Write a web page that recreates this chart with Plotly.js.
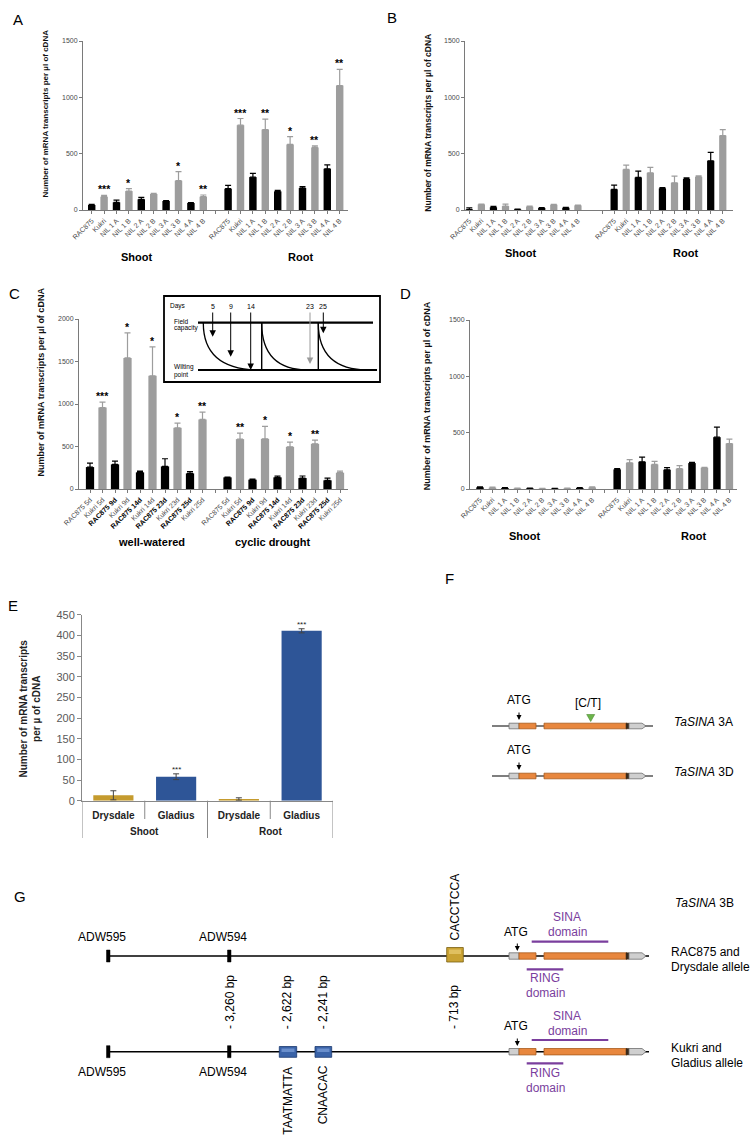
<!DOCTYPE html>
<html><head><meta charset="utf-8">
<script src="https://cdn.plot.ly/plotly-3.0.1.min.js"></script>
<style>html,body{margin:0;padding:0;background:#fff;}#chart{width:755px;height:1139px;}</style>
</head><body><div id="chart"></div>
<script>
const W=755,H=1139;
const FONT='Liberation Sans, Arial, sans-serif';

// ---------- DATA ----------
const lineLabels=['RAC875','Kukri','NIL 1 A','NIL 1 B','NIL 2 A','NIL 2 B','NIL 3 A','NIL 3 B','NIL 4 A','NIL 4 B'];
const tissueLabels=['Shoot','Root'];

// Panel A
const A_shoot=[45,118,68,168,95,142,80,260,62,118];
const A_shoot_err=[6,12,20,22,17,6,3,80,3,15];
const A_shoot_sig=['','***','','*','','','','*','','**'];
const A_root=[189,753,292,714,165,582,195,555,366,1104];
const A_root_err=[29,59,33,92,9,70,12,15,35,145];
const A_root_sig=['','***','','**','','*','','**','','**'];

// Panel B
const B_shoot=[5,50,24,35,6,30,18,47,20,41];
const B_shoot_err=[15,3,8,18,3,5,3,3,3,3];
const B_root=[183,360,289,330,192,242,275,295,437,661];
const B_root_err=[38,39,56,48,6,59,11,9,74,53];

// Panel C
const C_labels=['RAC875 5d','Kukri 5d','RAC875 9d','Kukri 9d','RAC875 14d','Kukri 14d','RAC875 23d','Kukri 23d','RAC875 25d','Kukri 25d'];
const C_groups=['well-watered','cyclic drought'];
const C_ww=[258,959,290,1542,196,1331,266,720,184,818];
const C_ww_err=[47,62,39,294,15,340,90,55,20,86];
const C_ww_sig=['','***','','*','','*','','*','','**'];
const C_cd=[137,587,110,591,137,497,129,532,102,192];
const C_cd_err=[3,71,7,145,16,55,24,43,27,19];
const C_cd_sig=['','**','','*','','*','','**','',''];
const C_days=['5','9','14','23','25'];

// Panel D
const D_shoot=[15,12,9,6,6,4,4,6,9,14];
const D_shoot_err=[5,4,3,3,3,2,2,2,3,5];
const D_root=[174,233,242,218,171,180,230,189,460,404];
const D_root_err=[6,27,41,27,18,27,6,3,89,39];

// Panel E
const E_tissue=['Shoot','Shoot','Root','Root'];
const E_cultivar=['Drysdale','Gladius','Drysdale','Gladius'];
const E_values=[13,58,4,411];
const E_err=[11,7,3,5];
const E_sig=['','***','','***'];

// ---------- HELPERS ----------
const px=x=>x/W, py=y=>1-y/H;
const traces=[], shapes=[], annotations=[], layout={};
function txt(text,x,y,o){o=o||{};annotations.push({xref:'paper',yref:'paper',x:px(x),y:py(y),text:text,showarrow:false,
  xanchor:o.xa||'center',yanchor:o.ya||'middle',textangle:o.angle||0,
  font:{family:FONT,size:o.size||12,color:o.color||'#000',weight:o.weight||'normal',style:o.style||'normal'}});}
function arrow(x,yTip,len,color,w,size){annotations.push({xref:'paper',yref:'paper',x:px(x),y:py(yTip),ax:0,ay:-len,text:'',
  showarrow:true,arrowhead:2,arrowsize:size||1,arrowwidth:w||1,arrowcolor:color||'#000',standoff:0});}
function seg(x0,y0,x1,y1,color,w){shapes.push({type:'line',xref:'paper',yref:'paper',x0:px(x0),y0:py(y0),x1:px(x1),y1:py(y1),line:{color:color,width:w}});}
function rect(x0,y0,x1,y1,fill,line,lw){shapes.push({type:'rect',xref:'paper',yref:'paper',x0:px(x0),y0:py(y0),x1:px(x1),y1:py(y1),fillcolor:fill,line:{color:line,width:lw}});}
function pth(d,fill,line,lw){shapes.push({type:'path',xref:'paper',yref:'paper',path:d,fillcolor:fill,line:{color:line,width:lw}});}
const P=(x,y)=>px(x)+','+py(y);

const GRAY='#9d9d9d', AX='#7a7a7a';

function barPanel(n,left,right,groupA,groupB,errA,errB,sigA,sigB,labels,rootOffset,x0px,step,y0px,ytop,ymax,yticks,opts){
  const xa='x'+(n===1?'':n), ya='y'+(n===1?'':n);
  const pos=[],vals=[],errs=[],sig=[];
  groupA.forEach((v,i)=>{pos.push(i);vals.push(v);errs.push(errA[i]);sig.push(sigA?sigA[i]:'');});
  groupB.forEach((v,i)=>{pos.push(i+rootOffset);vals.push(v);errs.push(errB[i]);sig.push(sigB?sigB[i]:'');});
  [[0,'#000'],[1,GRAY]].forEach(([par,col])=>{
    const idx=pos.map((_,i)=>i).filter(i=>i%2===par);
    traces.push({type:'bar',x:idx.map(i=>pos[i]),y:idx.map(i=>vals[i]),width:opts.bw||0.6,xaxis:xa,yaxis:ya,
      marker:{color:col,line:{width:0}},
      error_y:{type:'data',symmetric:false,array:idx.map(i=>errs[i]),arrayminus:idx.map(()=>0),color:col,thickness:1.2,width:3},
      hoverinfo:'skip'});
  });
  pos.forEach((p,i)=>{ if(sig[i]) annotations.push({xref:xa,yref:ya,x:p,y:vals[i]+errs[i],text:sig[i],showarrow:false,
      yanchor:'bottom',yshift:-2,font:{family:FONT,size:10.5,color:'#000',weight:'bold'}});});
  const tv=pos.slice(), tt=labels.concat(labels).map(opts.fmt||(s=>s));
  (opts.blank||[]).forEach(b=>{tv.push(b);tt.push('');});
  const xl=(left-x0px)/step, xr=(right-x0px)/step;
  layout['xaxis'+(n===1?'':n)]={domain:[px(left),px(right)],range:[xl,xr],anchor:ya,showline:true,linecolor:AX,linewidth:1,
    ticks:'outside',ticklen:3,tickcolor:AX,tickvals:tv,ticktext:tt,tickangle:-45,
    tickfont:{family:FONT,size:7,color:'#4a4a4a'},showgrid:false,zeroline:false,fixedrange:true};
  layout['yaxis'+(n===1?'':n)]={domain:[py(y0px),py(ytop)],range:[0,ymax],anchor:xa,showline:true,linecolor:AX,linewidth:1,
    ticks:'outside',ticklen:3,tickcolor:AX,tickvals:yticks,tickfont:{family:FONT,size:7,color:'#4a4a4a'},
    showgrid:false,zeroline:false,fixedrange:true};
}

// Panel A
barPanel(1,83,348,A_shoot,A_root,A_shoot_err,A_root_err,A_shoot_sig,A_root_sig,lineLabels,11,91.7,12.4,210,41,1500,[0,500,1000,1500],{blank:[10]});
// Panel B
barPanel(2,465,733,B_shoot,B_root,B_shoot_err,B_root_err,null,null,lineLabels,12,469.3,12.07,210,41,1500,[0,500,1000,1500],{blank:[11]});
// Panel C
const fmtC=s=>(s.startsWith('RAC875')&&!s.endsWith(' 5d'))?'<span style="color:#000"><b>'+s+'</b></span>':s;
barPanel(3,79,348,C_ww,C_cd,C_ww_err,C_cd_err,C_ww_sig,C_cd_sig,C_labels,11,90,12.5,489,319,2000,[0,500,1000,1500,2000],{blank:[10],fmt:fmtC,bw:0.66});
// Panel D
barPanel(4,470,737,D_shoot,D_root,D_shoot_err,D_root_err,null,null,lineLabels,11,480,12.47,489,320,1500,[0,500,1000,1500],{blank:[10]});

// Panel E (two-level category axis drawn with numeric positions)
const E_pos=E_values.map((_,i)=>i);
traces.push({type:'bar',x:E_pos,y:E_values,xaxis:'x5',yaxis:'y5',width:0.64,
  marker:{color:['#C59B2E','#2E5597','#C59B2E','#2E5597'],line:{width:0}},
  error_y:{type:'data',array:E_err,color:'#444',thickness:1,width:3},hoverinfo:'skip'});
E_values.forEach((v,i)=>{ if(E_sig[i]) annotations.push({xref:'x5',yref:'y5',x:i,y:v+E_err[i],text:E_sig[i],showarrow:false,
  yanchor:'bottom',yshift:-2,font:{family:FONT,size:8,color:'#222'}});});
layout.xaxis5={domain:[px(82),px(333)],range:[-0.5,3.5],anchor:'y5',showline:true,linecolor:'#888',linewidth:1,
  ticks:'',tickvals:E_pos,ticktext:E_cultivar,ticklabelstandoff:5,
  tickfont:{family:FONT,size:10,color:'#222',weight:'bold'},showgrid:false,zeroline:false,fixedrange:true};
layout.yaxis5={domain:[py(800.7),py(614.7)],range:[0,450],anchor:'x5',showline:true,linecolor:'#888',linewidth:1,
  ticks:'outside',ticklen:4,tickcolor:'#888',dtick:50,tickfont:{family:FONT,size:11,color:'#595959'},
  showgrid:false,zeroline:false,fixedrange:true};
// category dividers: long ones between tissues, short ones between cultivars
[-0.5,0.5,1.5,2.5,3.5].forEach((b,i)=>{
  shapes.push({type:'line',xref:'x5',yref:'paper',x0:b,x1:b,y0:py(800.7),y1:py(i%2===0?838:819),line:{color:'#888',width:1}});
});
[0,1].forEach(g=>{
  const members=E_pos.filter(i=>E_tissue[i]===tissueLabels[g]);
  annotations.push({xref:'x5',yref:'paper',x:(members[0]+members[members.length-1])/2,y:py(831.7),text:tissueLabels[g],
    showarrow:false,xanchor:'center',yanchor:'middle',font:{family:FONT,size:10,color:'#222',weight:'bold'}});
});

// ---------- TEXT: letters, titles, group labels ----------
[['A',18,19],['B',392,18],['C',14,293],['D',405,293],['E',13,605],['F',449,578],['G',20,896]].forEach(([t,x,y])=>txt(t,x,y,{size:15}));
const yT='Number of mRNA transcripts per µl of cDNA';
txt(yT,45,113.5,{angle:-90,size:8,weight:'bold',color:'#111'});
txt(yT,427.7,123,{angle:-90,size:8.5,weight:'bold',color:'#111'});
txt(yT,41,382.5,{angle:-90,size:9,weight:'bold',color:'#111'});
txt(yT,426.7,395.5,{angle:-90,size:9,weight:'bold',color:'#111'});
txt('Number of mRNA transcripts<br>per µ of cDNA',29,708.5,{angle:-90,size:10,weight:'bold',color:'#222'});
txt(tissueLabels[0],136.7,256.7,{size:11,weight:'bold'});txt(tissueLabels[1],300,256.7,{size:11,weight:'bold'});
txt(tissueLabels[0],520,253.3,{size:11,weight:'bold'});txt(tissueLabels[1],685,253.3,{size:11,weight:'bold'});
txt(C_groups[0],151.7,541.7,{size:11,weight:'bold'});txt(C_groups[1],273.3,541.7,{size:11,weight:'bold'});
txt(tissueLabels[0],524,536,{size:11,weight:'bold'});txt(tissueLabels[1],693.3,536,{size:11,weight:'bold'});

// ---------- C inset (soil water diagram) ----------
rect(164,296,380,382,'#fff','#000',1.8);
txt('Days',178,306,{size:6.5});
const dayX=[212.7,230.7,250.7,310,323.3], dayTip=[336.7,356.7,370,364,333.3];
C_days.forEach((d,i)=>{txt(d,dayX[i],306,{size:7});
  arrow(dayX[i],dayTip[i],dayTip[i]-311,i===3?'#9a9a9a':'#000',1,1.3);});
txt('Field',171.7,321.7,{size:6.5,xa:'left'});txt('capacity',171.7,328,{size:6.5,xa:'left'});
txt('Wilting',171.7,367,{size:6.5,xa:'left'});txt('point',171.7,375,{size:6.5,xa:'left'});
seg(198,322.7,373,322.7,'#000',2.2);seg(198,370,377,370,'#000',2.2);
seg(261.7,322.7,261.7,370,'#000',1.4);seg(318.3,322.7,318.3,370,'#000',1.4);
[[203.3,260],[261.7,308.3],[318.3,368.3]].forEach(([a,b])=>pth('M '+P(a,323)+' Q '+P(a,370)+' '+P(b,370),'rgba(0,0,0,0)','#000',1.3));

// ---------- gene models ----------
const ORANGE='#E8873E', ORL='#A85A1C', UTR='#cfcfcf', UTRL='#6e6e6e';
function gene(xStart,y,xEnd,h,lw){
  seg(xStart,y,xEnd,y,'#000',lw);
  rect(509,y-h,519,y+h,UTR,UTRL,0.8);
  rect(519,y-h,536,y+h,ORANGE,ORL,0.8);
  rect(544,y-h,627,y+h,ORANGE,ORL,0.8);
  rect(626,y-h,629,y+h,'#3a2a1a','#3a2a1a',0.5);
  pth('M '+P(629,y-h)+' L '+P(642,y-h)+' L '+P(646,y)+' L '+P(642,y+h)+' L '+P(629,y+h)+' Z',UTR,UTRL,0.8);
}
// F
gene(492,726,653,2.8,1.2);
gene(492,776,653,2.8,1.2);
txt('ATG',519,700,{size:12});arrow(519,720,9,'#000',1,1);
txt('ATG',519,750,{size:12});arrow(519,770,9,'#000',1,1);
txt('[C/T]',588.3,703.3,{size:12});
pth('M '+P(586.7,714.5)+' L '+P(594.7,714.5)+' L '+P(590.7,721.5)+' Z','#6BB54A','#4d8a33',0.6);
txt('<i>TaSINA</i> 3A',672.3,721.7,{size:12,xa:'left'});
txt('<i>TaSINA</i> 3D',672.3,771.7,{size:12,xa:'left'});

// G
const PURPLE='#7A3E9D';
[956,1051.7].forEach(y=>{
  gene(108,y,649,3.2,1.5);
  rect(106.5,y-6,110,y+6,'#000','#000',0.5);
  rect(227.5,y-6,231,y+6,'#000','#000',0.5);
});
txt('ADW595',102,937,{size:12});txt('ADW594',223,937,{size:12});
txt('ADW595',102,1072,{size:12});txt('ADW594',223,1072,{size:12});
rect(446.7,947.5,463.3,962,'#C9A233','#7a5f12',0.8);
rect(449,949.5,461,954,'#e0c060','rgba(0,0,0,0)',0);
rect(279.3,1046.5,296.7,1057.3,'#3A63A8','#1c3a70',0.8);
rect(281.5,1048.5,294.5,1052,'#6a8fcc','rgba(0,0,0,0)',0);
rect(315,1046.5,331.7,1057.3,'#3A63A8','#1c3a70',0.8);
rect(317.2,1048.5,329.5,1052,'#6a8fcc','rgba(0,0,0,0)',0);
txt('- 3,260 bp',230,1002,{size:12,angle:-90});
txt('- 2,622 bp',287.3,1002,{size:12,angle:-90});
txt('- 2,241 bp',323.3,1002,{size:12,angle:-90});
txt('TAATMATTA',287.3,1100.5,{size:12,angle:-90});
txt('CNAACAC',323.3,1095,{size:12,angle:-90});
txt('CACCTCCA',454,907.5,{size:12,angle:-90});
txt('- 713 bp',454,1007,{size:12,angle:-90});
// domains
[[931.7,951,916.7,932,941.7,969.3,977.7,992.7],[1026,1046,1015.7,1030.7,1040,1063.3,1072.7,1088.3]].forEach(([atgY,tip,s1,s2,sl,rl,r1,r2])=>{
  txt('ATG',516,atgY,{size:12});arrow(517.3,tip,9,'#000',1,1);
  txt('SINA',567,s1,{size:12,color:PURPLE});txt('domain',567,s2,{size:12,color:PURPLE});
  seg(531.7,sl,608.3,sl,PURPLE,2.2);
  seg(526.7,rl,563.3,rl,PURPLE,2.2);
  txt('RING',545,r1,{size:12,color:PURPLE});txt('domain',545,r2,{size:12,color:PURPLE});
});
txt('<i>TaSINA</i> 3B',673.3,903.3,{size:12,xa:'left'});
txt('RAC875 and',669.3,951.7,{size:12,xa:'left'});txt('Drysdale allele',669.3,967.3,{size:12,xa:'left'});
txt('Kukri and',669.3,1047.7,{size:12,xa:'left'});txt('Gladius allele',669.3,1062.7,{size:12,xa:'left'});

Object.assign(layout,{width:W,height:H,margin:{l:0,r:0,t:0,b:0},paper_bgcolor:'#fff',plot_bgcolor:'rgba(0,0,0,0)',
  showlegend:false,shapes:shapes,annotations:annotations,font:{family:FONT}});
Plotly.newPlot('chart',traces,layout,{staticPlot:true,displayModeBar:false});
</script></body></html>
